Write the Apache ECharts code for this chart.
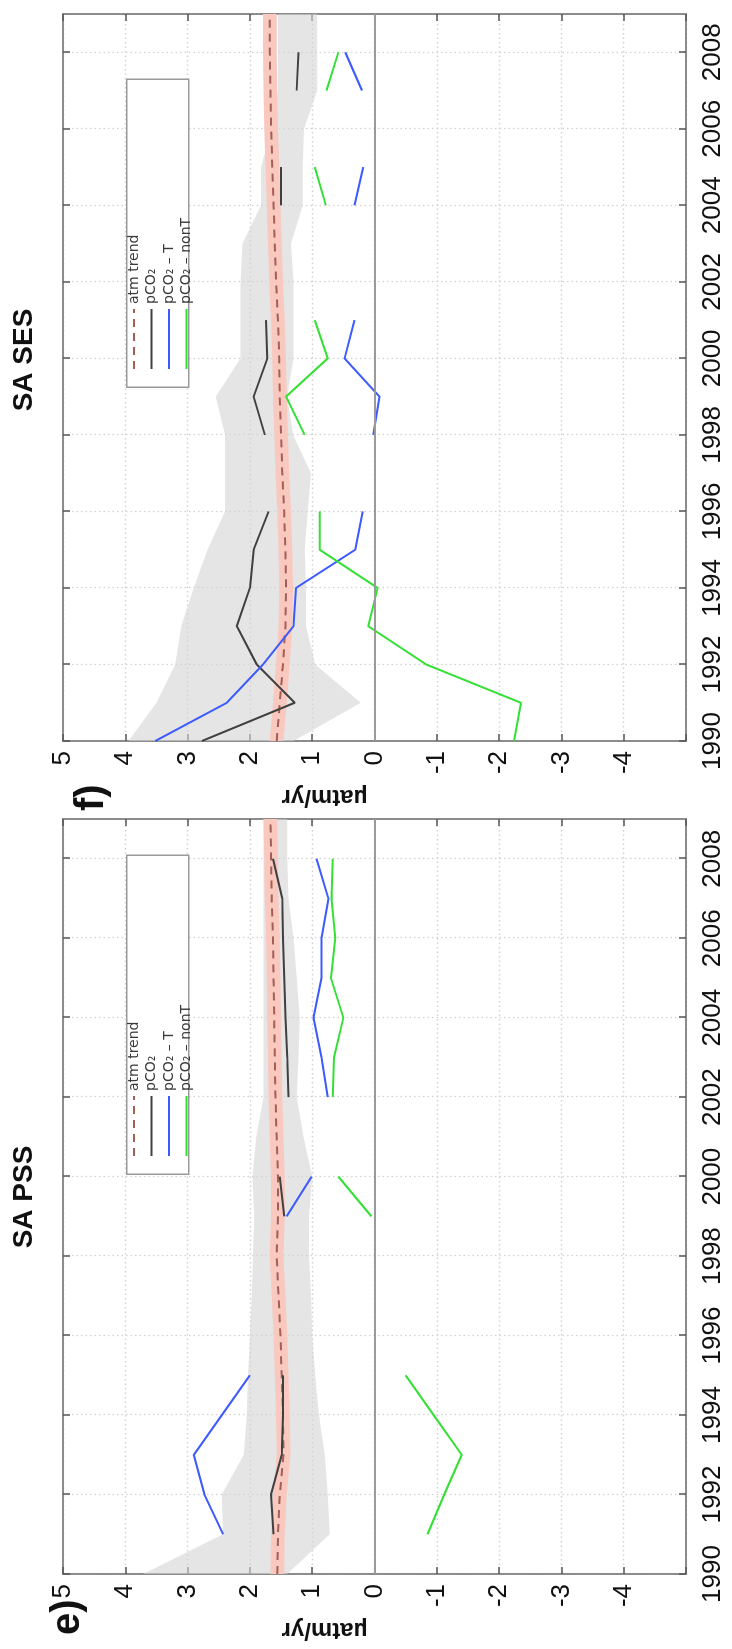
<!DOCTYPE html>
<html><head><meta charset="utf-8">
<script src="https://cdn.jsdelivr.net/npm/echarts/dist/echarts.min.js"></script>
<style>
html,body{margin:0;padding:0;background:#fff;width:732px;height:1649px;overflow:hidden;}
#rot{position:absolute;left:0;top:0;width:1649px;height:732px;transform-origin:0 0;transform:translate(0,1649px) rotate(-90deg);background:#fff;}
</style></head><body><div id="rot"></div>
<script>
// ---------- data ----------
const years = [1990,1991,1992,1993,1994,1995,1996,1997,1998,1999,2000,2001,2002,2003,2004,2005,2006,2007,2008,2009];
const valueTicks = [5,4,3,2,1,0,-1,-2,-3,-4];
const legendNames = ['atm trend','pCO\u2082','pCO\u2082 \u2013 T','pCO\u2082 \u2013 nonT'];

// panel e) SA PSS
const ePco2    = [null,1.62,1.66,1.49,1.47,1.47,null,null,null,1.45,1.52,null,1.38,1.40,1.43,1.45,1.47,1.48,1.63,null];
const ePco2T   = [null,2.43,2.73,2.90,2.45,2.00,null,null,null,1.41,1.01,null,0.75,0.85,0.98,0.85,0.85,0.74,0.93,null];
const ePco2NT  = [null,-0.85,-1.12,-1.40,-0.95,-0.50,null,null,null,0.05,0.58,null,0.67,0.65,0.50,0.70,0.63,0.69,0.67,null];
const eAtm     = [1.56,1.55,1.52,1.46,1.47,1.49,1.51,1.54,1.57,1.55,1.55,1.57,1.59,1.60,1.61,1.62,1.63,1.65,1.66,1.67];
const eEnvLo   = [1.40,0.72,0.75,0.80,0.89,0.95,1.00,1.02,1.05,1.05,1.00,1.14,1.25,1.22,1.20,1.25,1.30,1.38,1.40,1.40];
const eEnvHi   = [3.71,2.43,2.45,2.10,2.05,2.03,2.00,1.97,1.95,1.93,1.96,1.90,1.78,1.78,1.78,1.78,1.78,1.78,1.78,1.78];

// panel f) SA SES
const fPco2    = [2.77,1.28,1.89,2.21,2.00,1.94,1.70,null,1.76,1.94,1.72,1.74,null,null,1.50,1.50,null,1.25,1.22,null];
const fPco2T   = [3.52,2.37,1.79,1.30,1.26,0.31,0.19,null,0.02,-0.08,0.48,0.32,null,null,0.32,0.18,null,0.20,0.47,null];
const fPco2NT  = [-2.24,-2.35,-0.83,0.10,-0.05,0.88,0.88,null,1.12,1.42,0.75,0.96,null,null,0.78,0.96,null,0.77,0.58,null];
const fAtm     = [1.57,1.52,1.47,1.43,1.42,1.43,1.45,1.48,1.50,1.52,1.53,1.55,1.58,1.60,1.62,1.64,1.66,1.67,1.68,1.68];
const fEnvLo   = [1.30,0.22,0.95,1.10,1.10,1.12,1.07,1.02,1.31,1.40,1.30,1.30,1.30,1.34,1.15,1.15,1.13,0.92,0.92,0.92];
const fEnvHi   = [3.95,3.50,3.20,3.10,2.90,2.68,2.40,2.40,2.40,2.55,2.15,2.15,2.15,2.12,1.82,1.82,1.65,1.55,1.55,1.55];

const atmUnc = 0.11; // half-width of the pink atm-trend band

// ---------- styles ----------
const FONT = 'Liberation Sans';
const C = {black:'#404040', blue:'#3c5aff', green:'#35e035', atm:'#a45f55', band:'#f9c9c0', env:'rgba(212,212,212,0.6)', axis:'#8c8c8c', grid:'#d2d2d2', text:'#111'};

const toData = a => a.map(v => (v == null ? '-' : v));

function gridOpt(left, width){
  return {left:left, top:63, width:width, height:623, show:true, borderColor:C.axis, borderWidth:2, backgroundColor:'transparent', containLabel:false, outerBoundsMode:'none'};
}
function xAxes(gi){
  const common = {gridIndex:gi, type:'category', data:years.map(String), boundaryGap:false,
    axisLine:{show:true, onZero:false, lineStyle:{color:C.axis, width:2}},
    axisTick:{show:true, inside:true, length:7, interval:1, lineStyle:{color:'#555', width:1.5}}};
  return [
    Object.assign({}, common, {position:'bottom',
      axisLabel:{show:true, interval:1, fontSize:26, fontFamily:FONT, color:C.text, margin:14},
      splitLine:{show:true, interval:1, lineStyle:{color:C.grid, type:[1.5,3], width:1.3}}}),
    Object.assign({}, common, {position:'top', axisLabel:{show:false}, splitLine:{show:false}})
  ];
}
function yAxes(gi){
  const common = {gridIndex:gi, type:'value', min:-5, max:5, interval:1,
    axisLine:{show:true, onZero:false, lineStyle:{color:C.axis, width:2}},
    axisTick:{show:true, inside:true, length:7, lineStyle:{color:'#555', width:1.5}}};
  return [
    Object.assign({}, common, {position:'left',
      name:'\u00b5atm/yr', nameLocation:'middle', nameRotate:90, nameGap:44,
      nameTextStyle:{fontSize:24, fontWeight:'bold', fontFamily:FONT, color:C.text, padding:[0,0,0,100]},
      axisLabel:{show:true, fontSize:26, fontFamily:FONT, color:C.text, margin:10,
        formatter:v => (valueTicks.indexOf(v) >= 0 ? String(v) : '')},
      splitLine:{show:true, lineStyle:{color:C.grid, type:[1.5,3], width:1.3}}}),
    Object.assign({}, common, {position:'right', axisLabel:{show:false}, splitLine:{show:false}})
  ];
}

function panelSeries(gi, tag, d){
  const xi = gi*2, yi = gi*2;
  const base = {type:'line', xAxisIndex:xi, yAxisIndex:yi, symbol:'none', connectNulls:false, animation:false};
  const s = [];
  s.push(Object.assign({}, base, {name:'env'+tag, stack:'env'+tag, data:toData(d.envLo), lineStyle:{opacity:0}, silent:true, z:1,
    markLine:{silent:true, symbol:'none', label:{show:false}, lineStyle:{color:'#9a9a9a', type:'solid', width:1.8}, data:[{yAxis:0}], animation:false}}));
  s.push(Object.assign({}, base, {name:'envTop'+tag, stack:'env'+tag, data:d.envHi.map((h,i)=>+(h-d.envLo[i]).toFixed(3)),
    lineStyle:{opacity:0}, areaStyle:{color:C.env, opacity:1}, silent:true, z:1}));
  s.push(Object.assign({}, base, {name:'band'+tag, stack:'band'+tag, data:d.atm.map(v=>+(v-atmUnc).toFixed(3)), lineStyle:{opacity:0}, silent:true, z:1}));
  s.push(Object.assign({}, base, {name:'bandTop'+tag, stack:'band'+tag, data:d.atm.map(()=>2*atmUnc),
    lineStyle:{opacity:0}, areaStyle:{color:C.band, opacity:1}, silent:true, z:1}));
  s.push(Object.assign({}, base, {name:legendNames[0], data:toData(d.atm), lineStyle:{color:C.atm, width:2, type:[8,6]}, itemStyle:{color:C.atm}, z:3}));
  s.push(Object.assign({}, base, {name:legendNames[1], data:toData(d.pco2), lineStyle:{color:C.black, width:2}, itemStyle:{color:C.black}, z:4}));
  s.push(Object.assign({}, base, {name:legendNames[2], data:toData(d.pco2T), lineStyle:{color:C.blue, width:2}, itemStyle:{color:C.blue}, z:4}));
  s.push(Object.assign({}, base, {name:legendNames[3], data:toData(d.pco2NT), lineStyle:{color:C.green, width:2}, itemStyle:{color:C.green}, z:4}));
  return s;
}

// legend boxes (frame) and legend items
const legendBoxes = [{left:474, top:126, width:319, height:62}, {left:1261, top:126, width:308, height:62}];
function legendOpt(box){
  return {data:legendNames, left:box.left + 18, top:box.top + 1, orient:'vertical', selectedMode:false,
    backgroundColor:'transparent', borderWidth:0, padding:0, z:20,
    itemWidth:60, itemHeight:12, itemGap:3.5,
    itemStyle:{opacity:0, borderWidth:0},
    textStyle:{fontSize:14, lineHeight:12, fontFamily:'DejaVu Sans', color:'#3a3a3a'}};
}

const chart = echarts.init(document.getElementById('rot'), null, {renderer:'canvas', width:1649, height:732});
chart.setOption({
  backgroundColor:'#fff',
  animation:false,
  title:[
    {text:'SA PSS', left:452, top:10, textAlign:'center', padding:0, textStyle:{fontSize:28, fontWeight:'bold', fontFamily:FONT, color:C.text}},
    {text:'SA SES', left:1289, top:10, textAlign:'center', padding:0, textStyle:{fontSize:28, fontWeight:'bold', fontFamily:FONT, color:C.text}},
    {text:'e)', left:14, top:48, padding:0, textStyle:{fontSize:40, fontWeight:'bold', fontFamily:FONT, color:C.text}},
    {text:'f)', left:838, top:72, padding:0, textStyle:{fontSize:40, fontWeight:'bold', fontFamily:FONT, color:C.text}}
  ],
  graphic:legendBoxes.map(b => ({type:'rect', left:b.left, top:b.top, z:10, silent:true,
    shape:{width:b.width, height:b.height}, style:{fill:'#fff', stroke:'#9a9a9a', lineWidth:1.5}})),
  legend:legendBoxes.map(legendOpt),
  grid:[gridOpt(75,755), gridOpt(908,727)],
  xAxis:[].concat(xAxes(0), xAxes(1)),
  yAxis:[].concat(yAxes(0), yAxes(1)),
  series:[].concat(
    panelSeries(0,'E',{pco2:ePco2, pco2T:ePco2T, pco2NT:ePco2NT, atm:eAtm, envLo:eEnvLo, envHi:eEnvHi}),
    panelSeries(1,'F',{pco2:fPco2, pco2T:fPco2T, pco2NT:fPco2NT, atm:fAtm, envLo:fEnvLo, envHi:fEnvHi})
  )
});
</script></body></html>
